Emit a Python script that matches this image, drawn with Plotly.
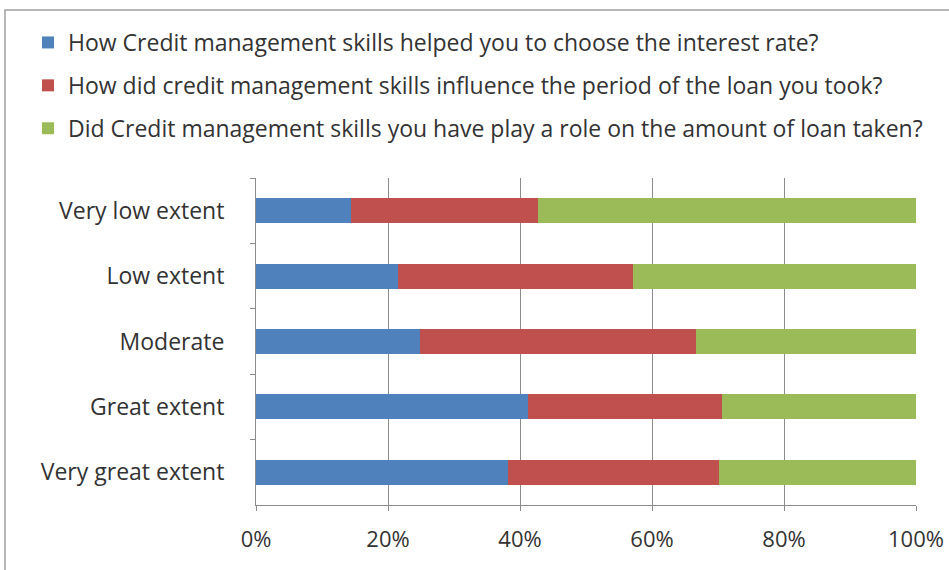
import plotly.graph_objects as go

categories = ["Very low extent", "Low extent", "Moderate", "Great extent", "Very great extent"]
interest_rate = [14.4, 21.5, 24.9, 41.2, 38.2]
loan_period = [28.4, 35.6, 41.8, 29.4, 32.0]
loan_amount = [57.2, 42.9, 33.3, 29.4, 29.8]

series_names = [
    "How Credit management skills helped you to choose the interest rate?",
    "How did credit management skills influence the period of the loan you took?",
    "Did Credit management skills you have play a role on the amount of loan taken?",
]
colors = ["#4F81BD", "#C0504D", "#9BBB59"]
values = [interest_rate, loan_period, loan_amount]
tick_vals = [0, 20, 40, 60, 80, 100]
tick_text = ["0%", "20%", "40%", "60%", "80%", "100%"]

W, H = 949, 570
L, R, T, B = 256, 33, 178, 65
FONT = "Open Sans, Liberation Sans, Arial, sans-serif"
FS = 23
TXT = "#333333"

fig = go.Figure()
for i, (name, vals, col) in enumerate(zip(series_names, values, colors)):
    fig.add_trace(go.Bar(
        y=categories, x=vals, name=name, orientation="h",
        marker=dict(color=col, line=dict(width=0)),
        legendgroup=f"g{i}",
    ))

pw = W - L - R
ph = H - T - B
def px(x):
    return (x - L) / pw
def py(y):
    return 1 - (y - T) / ph

fig.add_shape(type="rect", xref="paper", yref="paper",
              x0=px(5), x1=px(960), y0=py(10), y1=py(580),
              line=dict(color="#A0A0A0", width=1.5), layer="below")

fig.update_layout(
    width=W, height=H,
    margin=dict(l=L, r=R, t=T, b=B, autoexpand=False),
    paper_bgcolor="white", plot_bgcolor="white",
    barmode="stack", bargap=0.62,
    font=dict(family=FONT, size=FS, color=TXT),
    showlegend=True,
    legend=dict(
        xref="container", yref="container",
        x=28 / W, y=1 - 21 / H, xanchor="left", yanchor="top",
        traceorder="grouped", tracegroupgap=10,
        font=dict(size=FS, family=FONT, color=TXT),
        bgcolor="rgba(0,0,0,0)",
        itemclick=False, itemdoubleclick=False,
    ),
    xaxis=dict(
        range=[0, 100], tickvals=tick_vals, ticktext=tick_text,
        showgrid=True, gridcolor="#8C8C8C", gridwidth=1,
        showline=True, linecolor="#8C8C8C", linewidth=1,
        ticks="outside", ticklen=5, tickcolor="#8C8C8C",
        zeroline=False, fixedrange=True, automargin=False,
        ticklabelstandoff=10,
        tickfont=dict(size=22, family=FONT, color=TXT),
    ),
    yaxis=dict(
        categoryorder="array", categoryarray=categories,
        autorange="reversed",
        showline=True, linecolor="#8C8C8C", linewidth=1,
        ticks="outside", ticklen=5, tickcolor="#8C8C8C",
        tickson="boundaries", showgrid=False,
        ticklabelstandoff=26, automargin=False,
        tickfont=dict(size=FS, family=FONT, color=TXT),
        fixedrange=True,
    ),
)

fig.write_html("out.html")
